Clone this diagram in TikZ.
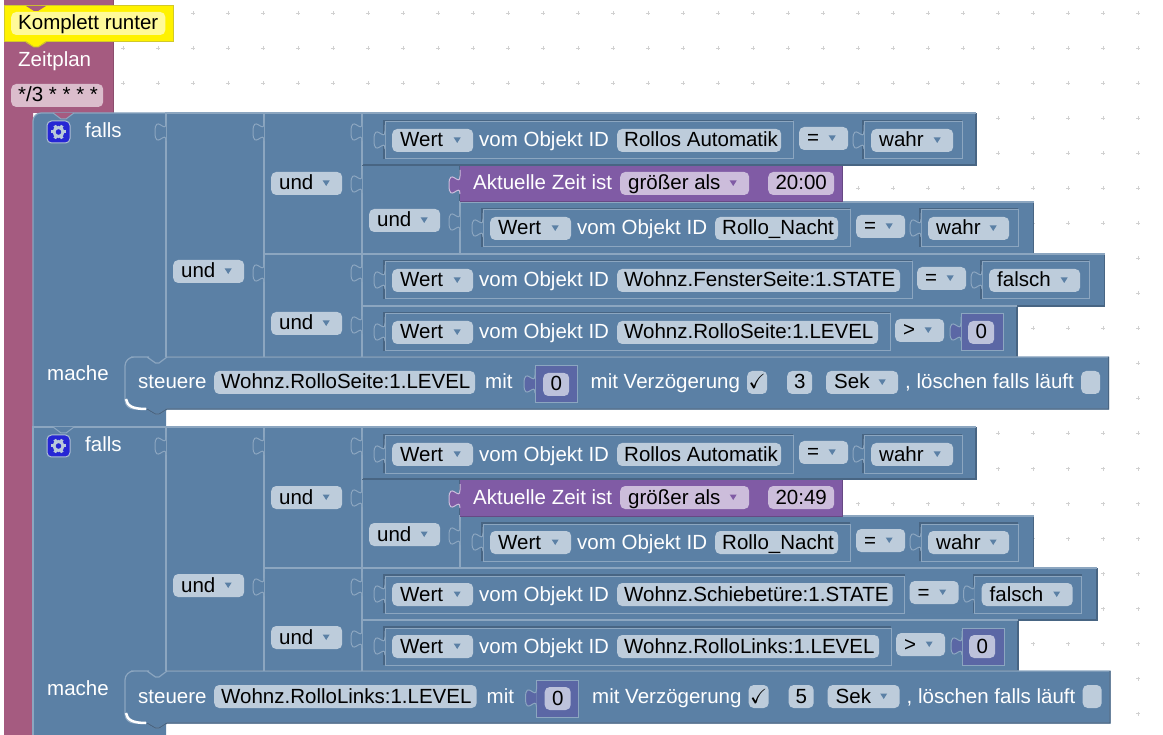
\documentclass[tikz,border=0pt]{standalone}
\usepackage{amssymb}
\usepackage{fontspec}
\setmainfont{Liberation Sans}
\definecolor{blockblue}{HTML}{5B80A5}
\definecolor{edgelight}{HTML}{8CA6C0}
\definecolor{edgedark}{HTML}{486583}
\definecolor{fieldblue}{HTML}{BDCCDB}
\definecolor{zeitpurple}{HTML}{805BA5}
\definecolor{fieldpurple}{HTML}{CCBDDB}
\definecolor{planmaroon}{HTML}{A55B80}
\definecolor{fieldmaroon}{HTML}{DBBDCC}
\definecolor{numblue}{HTML}{5B67A5}
\definecolor{fieldnum}{HTML}{BDC2DB}
\begin{document}
\begin{tikzpicture}[x=1pt,y=-1pt,
 lab/.style={anchor=base west,inner sep=0pt,text=white,font=\fontsize{20.5}{24}\selectfont},
 fieldbase/.style={anchor=base west,inner ysep=0pt,inner xsep=8pt,rounded corners=5pt,fill=fieldblue,text=black,text height=18pt,text depth=5pt,font=\fontsize{20.5}{24}\selectfont},
 field/.style={fieldbase,text width={(#1-16)*1pt},align=left,execute at begin node={\spaceskip=0pt\relax}},
 plainfield/.style={fieldbase,inner xsep=0pt,minimum width=#1,align=center},
 dropfield/.style={field=#1,path picture={\fill[blockblue,sharp corners] ([xshift=-19.5pt,yshift=3pt]path picture bounding box.east) -- ++(7,0) -- ++(-3.5,5.5) -- cycle;}},
 purplefield/.style={field=#1,fill=fieldpurple,path picture={\fill[zeitpurple,sharp corners] ([xshift=-19.5pt,yshift=3pt]path picture bounding box.east) -- ++(7,0) -- ++(-3.5,5.5) -- cycle;}},
 griddot/.style={draw=black!18,line width=1pt},
 edgeL/.style={draw=edgelight,line width=1.2pt},
 edgeD/.style={draw=edgedark,line width=1.2pt},
 tab/.pic={\path[pic actions] (0,0) -- (0,6) .. controls (0,18) and (-11,-4) .. (-11,15) .. controls (-11,34) and (0,12) .. (0,24);},
 tabblue/.style={fill=blockblue,draw=edgelight,line width=1pt},
 gearicon/.pic={
  \path[fill=blue!80!black!85,draw=edgelight!70!white,line width=1pt,rounded corners=4.5pt] (-11.5,-11) rectangle (11.5,11);
  \foreach \a in {0,60,...,300} \draw[edgelight!60!white,line width=3pt] (\a:4.5) -- (\a:7.5);
  \draw[edgelight!60!white,line width=3pt] (0,0) circle (4.5);}
 ]
\useasboundingbox (0,0) rectangle (1163,735);
\clip (0,0) rectangle (1163,735);
% dots behind the blocks
\foreach \x in {123,158,...,1138}
 \foreach \y in {13.5,48.5,...,713.5}
  \draw[griddot] (\x-2,\y) -- (\x+2,\y) (\x,\y-2) -- (\x,\y+2);
% left column
\path[fill=planmaroon] (4,0) -- (113,0) -- (113,113) -- (33,113) -- (33,740) -- (4,740) -- cycle;
\draw[planmaroon!85!black,line width=1pt] (113,0) -- (113,113);
\draw[fill=yellow,draw=yellow!80!black,line width=1pt] (4,6) rectangle (173,42);
\fill[yellow] (26,41) -- (34,47) -- (38,47) -- (46,41) -- cycle;
\draw[yellow!80!black,line width=1pt] (26,42) -- (34,47) -- (38,47) -- (46,42);
\fill[planmaroon] (26,6) -- (34,11) -- (38,11) -- (46,6) -- cycle;
\node[fieldbase,fill=yellow!40!white,inner xsep=7pt] (kommentar) at (11,30) {Komplett runter};
\node[lab] (zeitplan) at (18,67) {Zeitplan};
\node[field=94,fill=fieldmaroon,inner xsep=7pt] (cron) at (11,102) {\mbox{*/3 * * * *}};
% both falls blocks
\foreach \s/\sy/\rc/\nc/\tm/\dA/\dB/\dC/\idA/\idB/\dly in
 {1/0/8/planmaroon/20:00/0/0/0/Wohnz.FensterSeite:1.STATE/Wohnz.RolloSeite:1.LEVEL/3,
  2/314/0/blockblue/20:49/-7.5/1/1.5/Wohnz.Schiebetüre:1.STATE/Wohnz.RolloLinks:1.LEVEL/5}{
 \begin{scope}[shift={(0,\sy)}]
 \path[fill=blockblue] (33,428) [rounded corners=\rc pt] -- (33,113) -- (80,113) [sharp corners] -- (166,113) -- (166,428) -- cycle;
 \draw[edgeL] (33,428) [rounded corners=\rc pt] -- (33,113) -- (80,113) [sharp corners] -- (166,113);
 \draw[fill=\nc,draw=edgelight,line width=1pt] (53,113) -- (61,119) -- (66,119) -- (74,113);
 \pic at (58.5,132) {gearicon};
 \node[lab] (falls\s) at (85,138) {falls};
 \node[lab] (mache\s) at (47,381) {mache};
 % und and compare rows
 \foreach \xa/\ya/\xb/\yb in {166/113/264/357,264/113/362/254,264/254/362/357,362/165/460/254,
   362/113/976/165,460/202/1033.5/254,362/254/1104.5+\dA/306,362/306/1017+\dB/357}{
  \fill[blockblue] (\xa,\ya) rectangle (\xb,\yb);
  \draw[edgeD] (\xa,\yb) -- (\xb,\yb) -- (\xb,\ya);
  \draw[edgeL] (\xa,\yb) -- (\xa,\ya) -- (\xb,\ya);
 }
 \foreach \tx/\ty in {166/117,264/117,362/117,362/169,264/258,362/258,362/310,460/207}
  \pic[tabblue] at (\tx,\ty) {tab};
 \node[dropfield=71] (undA\s) at (173,278) {und};
 \node[dropfield=71] (undB\s) at (271,190) {und};
 \node[dropfield=71] (undC\s) at (369,227) {und};
 \node[dropfield=71] (undD\s) at (271,330) {und};
 % time block
 \path[fill=zeitpurple] (460,166) rectangle (842,202);
 \draw[zeitpurple!80!black,line width=1pt] (460,202) -- (842,202) -- (842,166);
 \pic[fill=zeitpurple,draw=fieldpurple,line width=1pt] at (460,170) {tab};
 \node[lab] (zeit\s) at (473,190) {Aktuelle Zeit ist};
 \node[purplefield=129] (vergleich\s) at (620,190) {größer als};
 \node[plainfield=66,fill=fieldpurple] (uhr\s) at (768,190) {\tm};
 % value rows
 \foreach \n/\ox/\by/\idt/\idr in {a/0/147/Rollos Automatik/783,b/98/235/Rollo\_Nacht/840,
   c/0/287/\idA/902+\dA,d/0/339/\idB/880+\dB}{
  \draw[edgeD] (384+\ox,\by+12) -- (384+\ox,\by-26) -- (\idr+10,\by-26);
  \draw[edgeL,line width=1pt] (385+\ox,\by+12) rectangle (\idr+10,\by-25);
  \pic[tabblue] at (385+\ox,\by-22) {tab};
  \node[dropfield=81] (wert\s\n) at (392+\ox,\by) {Wert};
  \node[lab] (vom\s\n) at (479+\ox,\by) {vom Objekt ID};
  \node[field=\idr-617-\ox,inner xsep=7pt] (id\s\n) at (617+\ox,\by) {\mbox{\idt}};
 }
 \foreach \n/\by/\eqx/\vt/\vw in {a/147/799/wahr/82,b/235/856/wahr/81,c/287/917+\dA/falsch/91}{
  \node[dropfield=49] (gleich\s\n) at (\eqx,\by-2) {=};
  \draw[edgeD] (\eqx+64,\by+12) -- (\eqx+64,\by-26) -- (\eqx+72+\vw+9,\by-26);
  \draw[edgeL,line width=1pt] (\eqx+65,\by+12) rectangle (\eqx+72+\vw+9,\by-25);
  \pic[tabblue] at (\eqx+65,\by-22) {tab};
  \node[dropfield=\vw] (wahr\s\n) at (\eqx+72,\by) {\vt};
 }
 \node[dropfield=49] (groesser\s) at (895+\dB,337) {>};
 \path[fill=numblue,draw=edgelight,line width=1pt] (961+\dB,314) rectangle (1003+\dB,351);
 \pic[fill=numblue,draw=edgelight,line width=1pt] at (961+\dB,317) {tab};
 \node[plainfield=26,fill=fieldnum] (null\s) at (968+\dB,339) {0};
 % steuere block
 \path[fill=blockblue,draw=edgelight,line width=1.2pt] (125,385) [rounded corners=9pt] -- (125,357) -- (140,357) [sharp corners] -- (147,357) -- (155.5,363) -- (159,363) -- (167,357)
   -- (1108.5+\dC,357) -- (1108.5+\dC,409) -- (167,409) -- (159,414) -- (155.5,414) -- (147,409) -- (140,409) [rounded corners=9pt] -- (125,409) -- cycle;
 \draw[edgeD] (1108.5+\dC,357) -- (1108.5+\dC,409) -- (167,409) -- (159,414) -- (155.5,414) -- (147,409);
 \draw[white,line width=2.5pt] (126,399) .. controls (127,406) and (133,409) .. (146,409);
 \node[lab] (steuere\s) at (138,389) {steuere};
 \node[field=263+\dC,inner xsep=7pt] (ziel\s) at (214,389) {\mbox{Wohnz.Rollo\ifnum\s=1 Seite\else Links\fi:1.LEVEL}};
 \node[lab] (mit\s) at (485+\dC,389) {mit};
 \path[fill=numblue,draw=edgelight,line width=1pt] (535+\dC,366) rectangle (577+\dC,403);
 \pic[fill=numblue,draw=edgelight,line width=1pt] at (535+\dC,369) {tab};
 \node[plainfield=26,fill=fieldnum] (wertnull\s) at (543+\dC,391) {0};
 \node[lab] (verz\s) at (590.5+\dC,389) {mit Verzögerung};
 \node[plainfield=20] (haken\s) at (747+\dC,389) {$\checkmark$};
 \node[plainfield=25] (zahl\s) at (787+\dC,389) {\dly};
 \node[dropfield=72] (sek\s) at (826+\dC,389) {Sek};
 \node[lab] (loeschen\s) at (905+\dC,389) {, löschen falls läuft};
 \node[plainfield=19] (leer\s) at (1081+\dC,389) {};
 \end{scope}
}
\end{tikzpicture}
\end{document}
